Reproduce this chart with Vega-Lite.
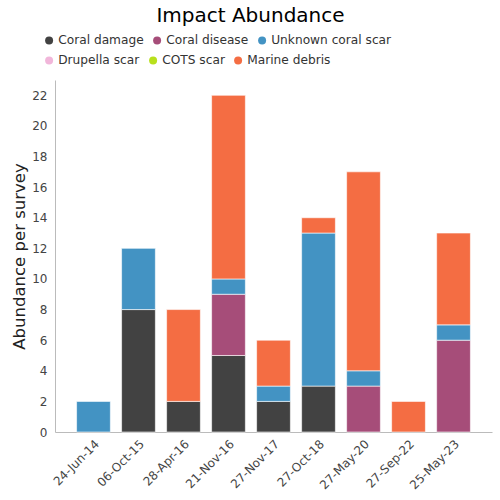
{
  "$schema": "https://vega.github.io/schema/vega-lite/v6.json",
  "width": 437,
  "height": 352,
  "autosize": "none",
  "padding": {"left": 55, "top": 80, "right": 8, "bottom": 68},
  "background": "white",
  "config": {
    "font": "DejaVu Sans",
    "view": {"stroke": null},
    "legend": {
      "orient": "none",
      "direction": "horizontal",
      "symbolType": "circle",
      "symbolSize": 64,
      "symbolStrokeWidth": 0,
      "labelFontSize": 12.2,
      "labelColor": "#333333",
      "columnPadding": 7,
      "labelOffset": 3
    }
  },
  "title": {
    "text": "Impact Abundance",
    "fontSize": 20,
    "fontWeight": "normal",
    "color": "#000000",
    "anchor": "middle",
    "dx": -23,
    "offset": 8
  },
  "data": {
    "values": [
      {"date": "24-Jun-14", "type": "Unknown coral scar", "ord": 3, "value": 2},
      {"date": "06-Oct-15", "type": "Coral damage", "ord": 1, "value": 8},
      {"date": "06-Oct-15", "type": "Unknown coral scar", "ord": 3, "value": 4},
      {"date": "28-Apr-16", "type": "Coral damage", "ord": 1, "value": 2},
      {"date": "28-Apr-16", "type": "Marine debris", "ord": 6, "value": 6},
      {"date": "21-Nov-16", "type": "Coral damage", "ord": 1, "value": 5},
      {"date": "21-Nov-16", "type": "Coral disease", "ord": 2, "value": 4},
      {"date": "21-Nov-16", "type": "Unknown coral scar", "ord": 3, "value": 1},
      {"date": "21-Nov-16", "type": "Marine debris", "ord": 6, "value": 12},
      {"date": "27-Nov-17", "type": "Coral damage", "ord": 1, "value": 2},
      {"date": "27-Nov-17", "type": "Unknown coral scar", "ord": 3, "value": 1},
      {"date": "27-Nov-17", "type": "Marine debris", "ord": 6, "value": 3},
      {"date": "27-Oct-18", "type": "Coral damage", "ord": 1, "value": 3},
      {"date": "27-Oct-18", "type": "Unknown coral scar", "ord": 3, "value": 10},
      {"date": "27-Oct-18", "type": "Marine debris", "ord": 6, "value": 1},
      {"date": "27-May-20", "type": "Coral disease", "ord": 2, "value": 3},
      {"date": "27-May-20", "type": "Unknown coral scar", "ord": 3, "value": 1},
      {"date": "27-May-20", "type": "Marine debris", "ord": 6, "value": 13},
      {"date": "27-Sep-22", "type": "Marine debris", "ord": 6, "value": 2},
      {"date": "25-May-23", "type": "Coral disease", "ord": 2, "value": 6},
      {"date": "25-May-23", "type": "Unknown coral scar", "ord": 3, "value": 1},
      {"date": "25-May-23", "type": "Marine debris", "ord": 6, "value": 6}
    ]
  },
  "transform": [
    {"stack": "value", "groupby": ["date"], "sort": [{"field": "ord", "order": "ascending"}], "as": ["y0", "y1"]}
  ],
  "encoding": {
    "x": {
      "field": "date",
      "type": "nominal",
      "title": null,
      "scale": {
        "domain": ["24-Jun-14", "06-Oct-15", "28-Apr-16", "21-Nov-16", "27-Nov-17", "27-Oct-18", "27-May-20", "27-Sep-22", "25-May-23"],
        "paddingInner": 0.25,
        "paddingOuter": 0.48
      },
      "axis": {
        "labelAngle": -45,
        "labelFontSize": 12,
        "labelColor": "#444444",
        "domainColor": "#bbbbbb",
        "ticks": false,
        "labelPadding": 6
      }
    },
    "y": {
      "field": "y0",
      "type": "quantitative",
      "title": "Abundance per survey",
      "scale": {"domain": [0, 23], "nice": false},
      "axis": {
        "values": [0, 2, 4, 6, 8, 10, 12, 14, 16, 18, 20, 22],
        "grid": false,
        "ticks": false,
        "labelFontSize": 12,
        "labelColor": "#444444",
        "domainColor": "#bbbbbb",
        "titleFontSize": 16.5,
        "titleFontWeight": "normal",
        "titleColor": "#222222",
        "labelPadding": 8,
        "titlePadding": 4
      }
    },
    "y2": {"field": "y1"}
  },
  "layer": [
    {
      "transform": [{"filter": "datum.ord <= 3"}],
      "mark": {"type": "bar", "stroke": "white", "strokeWidth": 1, "strokeOpacity": 0.6},
      "encoding": {
        "color": {
          "field": "type",
          "type": "nominal",
          "title": null,
          "scale": {
            "domain": ["Coral damage", "Coral disease", "Unknown coral scar"],
            "range": ["#424242", "#a64d79", "#4393c3"]
          },
          "legend": {"legendX": -12, "legendY": -46}
        }
      }
    },
    {
      "transform": [{"filter": "datum.ord >= 4"}],
      "mark": {"type": "bar", "stroke": "white", "strokeWidth": 1, "strokeOpacity": 0.6},
      "encoding": {
        "fill": {
          "field": "type",
          "type": "nominal",
          "title": null,
          "scale": {
            "domain": ["Drupella scar", "COTS scar", "Marine debris"],
            "range": ["#f1b6da", "#b8e01c", "#f46d43"]
          },
          "legend": {"legendX": -12, "legendY": -26}
        }
      }
    }
  ]
}
